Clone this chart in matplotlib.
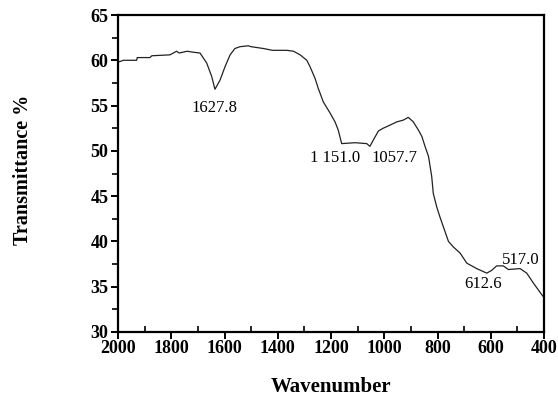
import matplotlib
matplotlib.use("Agg")
import matplotlib.pyplot as plt
from matplotlib.ticker import MultipleLocator

wavenumber = [1999, 1980, 1930, 1928, 1880, 1873, 1805, 1780, 1770, 1740, 1720, 1692,
              1667, 1648, 1636, 1617, 1598, 1579, 1561, 1542, 1511, 1500, 1454, 1420,
              1366, 1341, 1316, 1291, 1279, 1260, 1248, 1229, 1204, 1185, 1173, 1160,
              1110, 1066, 1054, 1041, 1022, 1004, 978, 953, 928, 910, 891, 872, 859,
              847, 834, 822, 816, 803, 791, 778, 759, 741, 715, 690, 653, 615, 597,
              578, 553, 534, 490, 465, 440, 403]
transmittance = [59.8, 60.0, 60.0, 60.3, 60.3, 60.5, 60.6, 61.0, 60.8, 61.0, 60.9, 60.8,
                 59.7, 58.2, 56.8, 57.8, 59.3, 60.6, 61.3, 61.5, 61.6, 61.5, 61.3, 61.1,
                 61.1, 61.0, 60.6, 60.0, 59.3, 58.0, 56.9, 55.4, 54.2, 53.2, 52.3, 50.8,
                 50.9, 50.8, 50.5, 51.2, 52.2, 52.5, 52.85, 53.2, 53.4, 53.7, 53.2, 52.3,
                 51.6, 50.5, 49.4, 47.2, 45.3, 43.8, 42.7, 41.6, 40.0, 39.4, 38.7, 37.6,
                 37.0, 36.5, 36.8, 37.3, 37.3, 36.9, 37.0, 36.5, 35.4, 33.9]

peak_labels = ["1627.8", "1 151.0", "1057.7", "612.6", "517.0"]
label_x = [1636, 1185, 963, 629, 486]
label_y = [54.7, 49.2, 49.2, 35.3, 37.95]

plt.rcParams['font.family'] = ['Liberation Serif', 'DejaVu Serif']

fig = plt.figure(figsize=(5.58, 4.0), dpi=100)
ax = fig.add_axes([0.2115, 0.17, 0.7635, 0.7925])

ax.plot(wavenumber, transmittance, color='#222222', lw=0.9)

for t, x, y in zip(peak_labels, label_x, label_y):
    ax.text(x, y, t, ha='center', va='center', fontsize=12)

ax.set_xlim(2000, 400)
ax.set_ylim(30, 65)
ax.xaxis.set_major_locator(MultipleLocator(200))
ax.xaxis.set_minor_locator(MultipleLocator(100))
ax.yaxis.set_major_locator(MultipleLocator(5))
ax.yaxis.set_minor_locator(MultipleLocator(2.5))

for s in ax.spines.values():
    s.set_linewidth(1.6)

ax.tick_params(which='major', direction='out', length=5, width=1.4, labelsize=13)
ax.tick_params(axis='y', which='minor', direction='out', length=4, width=1.2)
ax.tick_params(axis='x', which='minor', direction='in', length=4, width=1.2)
ax.tick_params(axis='x', pad=1)
ax.tick_params(axis='y', pad=2)
for lab in ax.get_xticklabels() + ax.get_yticklabels():
    lab.set_fontweight('bold')

ax.set_xlabel('Wavenumber', fontsize=15, fontweight='bold', labelpad=14)
fig.text(0.041, 0.575, 'Transmittance %', rotation=90, ha='center', va='center',
         fontsize=14.5, fontweight='bold')

fig.savefig('out.png', dpi=100)
